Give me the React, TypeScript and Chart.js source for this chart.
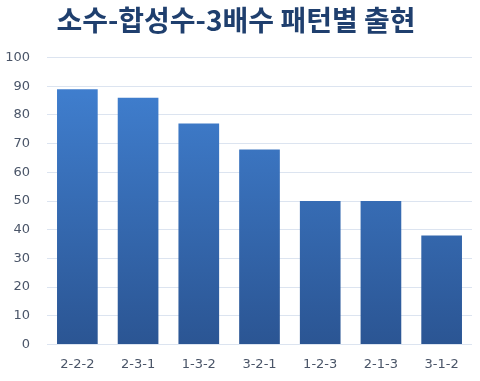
import React, { useEffect, useRef } from "react";
import { Chart, registerables } from "chart.js";

Chart.register(...registerables);

const categories = ["2-2-2", "2-3-1", "1-3-2", "3-2-1", "1-2-3", "2-1-3", "3-1-2"];
const counts = [89, 86, 77, 68, 50, 50, 38];
const titleText = "소수-합성수-3배수 패턴별 출현";

export default function App() {
  const ref = useRef<HTMLCanvasElement>(null);
  useEffect(() => {
    document.body.style.margin = "0";
    const chart = new Chart(ref.current!, {
      type: "bar",
      data: {
        labels: categories,
        datasets: [
          {
            data: counts,
            backgroundColor: (c: any) => {
              const area = c.chart.chartArea;
              if (!area) return "#3A6DB5";
              const g = c.chart.ctx.createLinearGradient(0, area.top, 0, area.bottom);
              g.addColorStop(0, "#4283D5");
              g.addColorStop(1, "#2B5593");
              return g;
            },
            borderWidth: 0,
            barPercentage: 0.67,
            categoryPercentage: 1,
          },
        ],
      },
      options: {
        animation: false,
        responsive: false,
        layout: { padding: { left: 0, right: 8, top: 0, bottom: -3 } },
        plugins: {
          legend: { display: false },
          tooltip: { enabled: false },
          title: {
            display: true,
            text: titleText,
            color: "#1F3F6E",
            font: { size: 28, weight: "bold", family: "'Noto Sans CJK KR', sans-serif" },
            padding: { top: 4, bottom: 20 },
          },
        },
        scales: {
          x: {
            grid: { display: false, drawTicks: false },
            border: { display: false },
            ticks: {
              color: "#4A5568",
              font: { size: 13, family: "'DejaVu Sans', sans-serif" },
              padding: 12,
            },
          },
          y: {
            min: 0,
            max: 100,
            afterFit: (scale: any) => {
              scale.width = 47;
            },
            ticks: {
              stepSize: 10,
              color: "#4A5568",
              font: { size: 13, family: "'DejaVu Sans', sans-serif" },
              padding: 17,
            },
            grid: { color: "#DCE4F0", drawTicks: false },
            border: { display: false },
          },
        },
      },
    });
    return () => chart.destroy();
  }, []);
  return (
    <div style={{ width: 480, height: 381 }}>
      <canvas ref={ref} width={480} height={381} />
    </div>
  );
}
